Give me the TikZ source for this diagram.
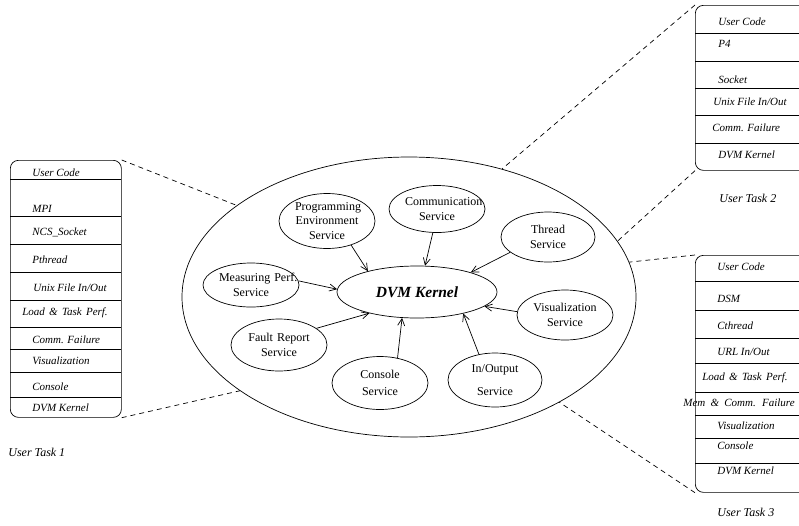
\documentclass[tikz,border=0pt]{standalone}
\usepackage{fontspec}
\setmainfont{Liberation Serif}
\usetikzlibrary{positioning, shapes.geometric, arrows.meta}

\begin{document}
\begin{tikzpicture}[x = 1pt, y = -1pt, line width = 0.7pt,
    service/.style = {draw, ellipse, inner sep = 0pt, minimum width = 96pt, text width = 64pt, align = center, font = \fontsize{12}{14.5}\selectfont},
    stack/.style = {draw, rounded corners = 8pt, anchor = north west, inner sep = 0pt},
    layer/.style = {anchor = west, inner sep = 0pt, text height = 7pt, text depth = 2pt, font = \fontsize{11}{12}\selectfont\itshape},
    caption/.style = {anchor = west, inner sep = 0pt, font = \fontsize{12}{14}\selectfont\itshape},
    link/.style = {dash pattern = on 5pt off 4pt},
    feed/.style = {-{Straight Barb[length = 7pt, width = 7pt]}}]

    \useasboundingbox (0, 0) rectangle (799, 525);
    \clip (0, 0) rectangle (799, 525);

    \node [draw, ellipse, inner sep = 0pt, minimum width = 454pt, minimum height = 280pt] (host) at (409, 297) {};
    \node [draw, ellipse, inner sep = 0pt, minimum width = 160pt, minimum height = 52pt, font = \fontsize{15.5}{18}\selectfont\bfseries\itshape] (kernel) at (417, 292) {DVM Kernel};

    \node [service, minimum height = 55pt] (prog) at (327, 221) {Programming\\Environment\\Service};
    \node [service, minimum height = 47pt] (comm) at (437, 209) {Communication\\Service};
    \node [service, minimum width = 94pt, minimum height = 50pt] (thread) at (548, 237) {Thread\\Service};
    \node [service, minimum height = 44pt] (meas) at (251, 285) {Measuring~Perf.\\Service};
    \node [service, minimum height = 52pt] (fault) at (279, 345) {Fault Report\\Service};
    \node [service, minimum height = 53pt] (console) at (380, 383) {Console\\[3pt]Service};
    \node [service, minimum width = 94pt, minimum height = 54pt] (inout) at (495, 380) {In/Output\\[9pt]Service};
    \node [service, minimum height = 50pt] (vis) at (565, 315) {Visualization\\Service};

    \draw [feed] (prog.-45) -- (kernel.157);
    \draw [feed] (comm.-100) -- (kernel.73);
    \draw [feed] (thread.202) -- (kernel.20);
    \draw [feed] (meas.5) -- (kernel.178);
    \draw [feed] (fault.24) -- (kernel.204);
    \draw [feed] (console.55) -- (kernel.240);
    \draw [feed] (inout.122) -- (kernel.-25);
    \draw [feed] (vis.176) -- (kernel.-12);

    \node [stack, minimum width = 111pt, minimum height = 257pt] (task1) at (10, 160) {};
    \foreach \y in {179, 216, 244, 272, 300, 327, 349, 372, 397}
        \draw (10, \y) -- (121, \y);
    \node [layer] (t1code) at (32, 174) {User Code};
    \node [layer] (t1mpi) at (32, 210) {MPI};
    \node [layer] (t1sock) at (32, 233) {NCS\_Socket};
    \node [layer] (t1thr) at (32, 261) {Pthread};
    \node [layer] (t1file) at (33, 289) {Unix File In/Out};
    \node [layer] (t1load) at (22, 313) {Load\hspace{1.5pt} \&\hspace{1.5pt} Task\hspace{1.5pt} Perf.};
    \node [layer] (t1fail) at (32, 341) {Comm. Failure};
    \node [layer] (t1vis) at (32, 362) {Visualization};
    \node [layer] (t1con) at (32, 388) {Console};
    \node [layer] (t1dvm) at (32, 409) {DVM Kernel};
    \node [caption] (cap1) at (8, 452) {User Task 1};

    \node [stack, minimum width = 150pt, minimum height = 165pt] (task2) at (695, 5) {};
    \foreach \y in {33, 61, 88, 115, 143}
        \draw (695, \y) -- (845, \y);
    \node [layer] (t2code) at (718, 23) {User Code};
    \node [layer] (t2pfour) at (718, 45) {P4};
    \node [layer] (t2sock) at (718, 81) {Socket};
    \node [layer] (t2file) at (713, 103) {Unix File In/Out};
    \node [layer] (t2fail) at (712, 129) {Comm. Failure};
    \node [layer] (t2dvm) at (718, 156) {DVM Kernel};
    \node [caption] (cap2) at (719, 198) {User Task 2};

    \node [stack, minimum width = 150pt, minimum height = 237pt] (task3) at (695, 255) {};
    \foreach \y in {281, 310, 338, 363, 392, 415, 438, 463}
        \draw (695, \y) -- (845, \y);
    \node [layer] (t3code) at (717, 268) {User Code};
    \node [layer] (t3dsm) at (717, 300) {DSM};
    \node [layer] (t3thr) at (717, 327) {Cthread};
    \node [layer] (t3url) at (717, 353) {URL In/Out};
    \node [layer] (t3load) at (702, 378) {Load\hspace{1.5pt} \&\hspace{1.5pt} Task\hspace{1.5pt} Perf.};
    \node [layer] (t3fail) at (683, 404) {Mem\hspace{2.5pt} \&\hspace{2.5pt} Comm.\hspace{2.5pt} Failure};
    \node [layer] (t3vis) at (717, 427) {Visualization};
    \node [layer] (t3con) at (717, 447) {Console};
    \node [layer] (t3dvm) at (717, 472) {DVM Kernel};
    \node [caption] (cap3) at (717, 512) {User Task 3};

    \draw [link] (task1.north east) -- (host.152);
    \draw [link] (task1.south east) -- (host.209);
    \draw [link] (task2.north west) -- (host.54);
    \draw [link] (task2.south west) -- (host.15);
    \draw [link] (task3.north west) -- (host.9);
    \draw [link] (task3.south west) -- (host.-35);
\end{tikzpicture}
\end{document}
